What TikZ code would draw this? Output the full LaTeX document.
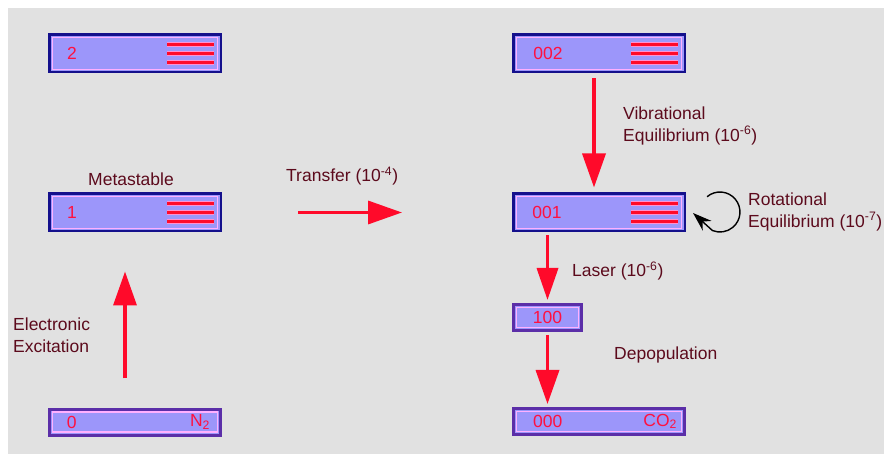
\documentclass[tikz,border=0pt]{standalone}
\usepackage{fontspec}
\setmainfont{Liberation Sans}
\usetikzlibrary{arrows.meta,calc}
\definecolor{bggray}{HTML}{E1E1E1}
\definecolor{boxfill}{HTML}{9C96FA}
\definecolor{navy}{HTML}{14108C}
\definecolor{purpleb}{HTML}{5B2EA8}
\definecolor{pinkline}{HTML}{FFB0FF}
\definecolor{arrred}{HTML}{FF0A2A}
\definecolor{numred}{HTML}{FF1040}
\definecolor{txtcol}{HTML}{5C0A1C}
\definecolor{halo}{HTML}{FF90D0}
\tikzset{
  lvl/.style={draw=navy, line width=2.5pt, fill=boxfill, minimum width=171.5pt, minimum height=37.5pt, inner sep=0pt,
    path picture={\draw[pinkline, line width=1.2pt] ([shift={(3pt,-3pt)}]path picture bounding box.north west) rectangle ([shift={(-3pt,3pt)}]path picture bounding box.south east);}},
  lowlvl/.style={lvl, draw=purpleb, minimum height=26pt, line width=3pt},
  num/.style={text=numred, font=\fontsize{17.5}{20}\selectfont, inner sep=0pt},
  lbl/.style={text=txtcol, font=\fontsize{17.5}{22}\selectfont, inner sep=0pt},
  redarrow/.style={draw=arrred, line width=3.5pt, -{Triangle[length=34pt,width=23pt]}},
}
\newcommand\threelines[1]{%
  \foreach \dy in {-9,0,9}{%
    \draw[halo, line width=4.5pt] ([shift={(-55pt,\dy pt)}]#1.east) -- ([shift={(-8pt,\dy pt)}]#1.east);
    \draw[arrred, line width=2.3pt] ([shift={(-55pt,\dy pt)}]#1.east) -- ([shift={(-8pt,\dy pt)}]#1.east);
  }}
\begin{document}
\begin{tikzpicture}[x=1pt,y=-1pt]
\useasboundingbox (0,0) rectangle (884,454);
\fill[white] (0,0) rectangle (884,454);
\fill[bggray] (8,8) rectangle (884,454);

% levels
\node[lvl] (b2) at (135,53.5) {};
\node[lvl] (b1) at (135,212.5) {};
\node[lowlvl] (b0) at (135,422) {};
\node[lvl] (b002) at (599,53.5) {};
\node[lvl] (b001) at (599,212.5) {};
\node[lowlvl, minimum width=68pt, minimum height=26pt] (b100) at (547.5,317.5) {};
\node[lowlvl] (b000) at (599,421.5) {};

\threelines{b2}
\threelines{b1}
\threelines{b002}
\threelines{b001}

% numbers
\node[num] (t2) at ([xshift=24pt]b2.west) {2};
\node[num] (t1) at ([xshift=24pt]b1.west) {1};
\node[num] (t0) at ([xshift=24pt]b0.west) {0};
\node[num, anchor=east] (tn2) at ([xshift=-12pt]b0.east) {N\textsubscript{2}};
\node[num] (t002) at ([xshift=36pt]b002.west) {002};
\node[num] (t001) at ([xshift=35pt]b001.west) {001};
\node[num] (t100) at (b100.center) {100};
\node[num] (t000) at ([xshift=36pt]b000.west) {000};
\node[num, anchor=east] (tco2) at ([xshift=-9pt]b000.east) {CO\textsubscript{2}};

% labels
\node[lbl, anchor=west, align=left] (exc) at (13,335) {Electronic\\Excitation};
\node[lbl] (meta) at (131,179) {Metastable};
\node[lbl, anchor=west] (trans) at (286,176) {Transfer (10\textsuperscript{-4})};
\node[lbl, anchor=west, align=left] (vib) at (623,125.5) {Vibrational\\Equilibrium (10\textsuperscript{-6})};
\node[lbl, anchor=west, align=left] (rot) at (748,211.5) {Rotational\\Equilibrium (10\textsuperscript{-7})};
\node[lbl, anchor=west] (laser) at (572,271) {Laser (10\textsuperscript{-6})};
\node[lbl, anchor=west] (depop) at (614,355) {Depopulation};

% arrows
\draw[redarrow, shorten <=29pt, shorten >=39pt] ([xshift=-10pt]b0.north) -- ([xshift=-10pt]b1.south);
\draw[redarrow, shorten <=76pt, shorten >=110pt] (b1.east) -- (b001.west);
\draw[redarrow, shorten <=5pt, shorten >=5pt] ([xshift=-5pt]b002.south) -- ([xshift=-5pt]b001.north);
\draw[redarrow, -{Triangle[length=32pt,width=21pt]}, shorten <=3pt, shorten >=3pt] (b001.south -| b100.north) -- (b100.north);
\draw[redarrow, shorten <=3pt, shorten >=3pt] (b100.south) -- (b100.south |- b000.north);

% rotational loop
\coordinate (rotend) at (693,213);
\draw[black, line width=1.4pt, -{Stealth[length=19pt,width=13pt]}] (707.1,196.7) arc[start angle=-130, end angle=112, radius=20] -- (rotend);
\end{tikzpicture}
\end{document}
